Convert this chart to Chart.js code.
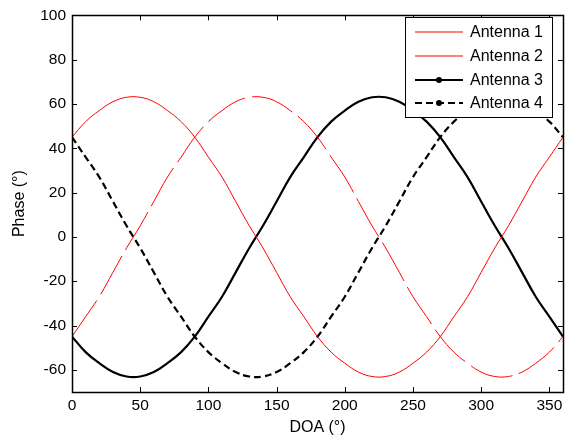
<!DOCTYPE html>
<html>
<head>
<meta charset="utf-8">
<script src="https://cdn.jsdelivr.net/npm/chart.js@4.4.0/dist/chart.umd.min.js"></script>
<style>
html, body { margin: 0; padding: 0; background: #fff; }
#wrap { width: 571px; height: 439px; }
</style>
</head>
<body>
<div id="wrap"><canvas id="c"></canvas></div>
<script>
// DOA in degrees, phase in degrees
const doa = [0, 10, 20, 30, 40, 50, 60, 70, 80, 90, 100, 110, 120, 130, 140, 150, 160, 170, 180,
  190, 200, 210, 220, 230, 240, 250, 260, 270, 280, 290, 300, 310, 320, 330, 340, 350, 360];
const antenna1 = [45, 52, 57, 61, 63, 63, 61, 57, 52, 45, 36, 27, 16, 5, -5, -16, -27, -36, -45,
  -52, -57, -61, -63, -63, -61, -57, -52, -45, -36, -27, -16, -5, 5, 16, 27, 36, 45];
const antenna2 = [-45, -36, -27, -16, -5, 5, 16, 27, 36, 45, 52, 57, 61, 63, 63, 61, 57, 52, 45,
  36, 27, 16, 5, -5, -16, -27, -36, -45, -52, -57, -61, -63, -63, -61, -57, -52, -45];
const antenna3 = [-45, -52, -57, -61, -63, -63, -61, -57, -52, -45, -36, -27, -16, -5, 5, 16, 27, 36, 45,
  52, 57, 61, 63, 63, 61, 57, 52, 45, 36, 27, 16, 5, -5, -16, -27, -36, -45];
const antenna4 = [45, 36, 27, 16, 5, -5, -16, -27, -36, -45, -52, -57, -61, -63, -63, -61, -57, -52, -45,
  -36, -27, -16, -5, 5, 16, 27, 36, 45, 52, 57, 61, 63, 63, 61, 57, 52, 45];
const seriesNames = ['Antenna 1', 'Antenna 2', 'Antenna 3', 'Antenna 4'];
const xTicks = [0, 50, 100, 150, 200, 250, 300, 350];
const yTicks = [-60, -40, -20, 0, 20, 40, 60, 80, 100];

const FONT = '"Liberation Sans", Arial, Helvetica, sans-serif';

function pts(ys) {
  return doa.map((x, i) => ({ x: x, y: ys[i] }));
}

const styles = [
  { color: '#ff0000', width: 1, dash: [], dot: false },
  { color: '#ff0000', width: 1, dash: [44, 7], dot: false },
  { color: '#000000', width: 2.2, dash: [], dot: true },
  { color: '#000000', width: 2.2, dash: [7, 4], dot: true }
];

// matlab style box with inward ticks on all sides
const boxPlugin = {
  id: 'box',
  afterDatasetsDraw(chart) {
    const { ctx, chartArea: a, scales: { x, y } } = chart;
    ctx.save();
    ctx.strokeStyle = '#000';
    ctx.lineWidth = 1;
    ctx.beginPath();
    xTicks.forEach(v => {
      const px = Math.round(x.getPixelForValue(v)) + 0.5;
      ctx.moveTo(px, a.bottom); ctx.lineTo(px, a.bottom - 5);
      ctx.moveTo(px, a.top); ctx.lineTo(px, a.top + 5);
    });
    yTicks.forEach(v => {
      const py = Math.round(y.getPixelForValue(v)) + 0.5;
      ctx.moveTo(a.left, py); ctx.lineTo(a.left + 5, py);
      ctx.moveTo(a.right, py); ctx.lineTo(a.right - 5, py);
    });
    ctx.stroke();
    ctx.lineWidth = 1.5;
    ctx.strokeRect(Math.round(a.left) + 0.5, Math.round(a.top) + 0.5,
      Math.round(a.right - a.left), Math.round(a.bottom - a.top));
    ctx.restore();
  }
};

// legend box inside the top right corner
const legendPlugin = {
  id: 'boxLegend',
  afterDraw(chart) {
    const ctx = chart.ctx;
    const left = 405, top = 17, w = 147, h = 100;
    ctx.save();
    ctx.fillStyle = '#fff';
    ctx.fillRect(left, top, w, h);
    ctx.strokeStyle = '#000';
    ctx.lineWidth = 1;
    ctx.strokeRect(left + 0.5, top + 0.5, w, h);
    const rows = [32, 56, 80, 103];
    seriesNames.forEach((name, i) => {
      const s = styles[i];
      const yy = rows[i];
      ctx.beginPath();
      ctx.strokeStyle = s.color;
      ctx.lineWidth = s.width;
      // legend shows antenna 2 as a plain line
      ctx.setLineDash(i === 3 ? [7, 4] : []);
      ctx.moveTo(415, yy); ctx.lineTo(463, yy);
      ctx.stroke();
      ctx.setLineDash([]);
      if (s.dot) {
        ctx.beginPath();
        ctx.fillStyle = s.color;
        ctx.arc(439, yy, 3, 0, Math.PI * 2);
        ctx.fill();
      }
      ctx.fillStyle = '#000';
      ctx.font = '16px ' + FONT;
      ctx.textBaseline = 'middle';
      ctx.fillText(name, 470, yy + 1);
    });
    ctx.restore();
  }
};

const allData = [antenna1, antenna2, antenna3, antenna4];

new Chart(document.getElementById('c'), {
  type: 'line',
  data: {
    datasets: allData.map((d, i) => ({
      label: seriesNames[i],
      data: pts(d),
      borderColor: styles[i].color,
      borderWidth: styles[i].width,
      borderDash: styles[i].dash,
      pointRadius: 0,
      fill: false,
      tension: 0.4
    }))
  },
  options: {
    responsive: true,
    maintainAspectRatio: false,
    animation: false,
    devicePixelRatio: 1,
    layout: { padding: { top: 13, right: 8, left: 0, bottom: 0 } },
    plugins: { legend: { display: false }, tooltip: { enabled: false } },
    scales: {
      x: {
        type: 'linear',
        min: 0,
        max: 360,
        afterBuildTicks: s => { s.ticks = xTicks.map(v => ({ value: v })); },
        afterFit: s => { s.height = 47; },
        grid: { display: false, drawTicks: false },
        border: { display: false },
        ticks: { color: '#000', padding: 4, maxRotation: 0, font: { family: FONT, size: 15.5 } },
        title: { display: true, text: 'DOA (°)', color: '#000', padding: { top: 0, bottom: 2 },
          font: { family: FONT, size: 16 } }
      },
      y: {
        min: -70,
        max: 100,
        afterBuildTicks: s => { s.ticks = yTicks.map(v => ({ value: v })); },
        afterFit: s => { s.width = 72; },
        grid: { display: false, drawTicks: false },
        border: { display: false },
        ticks: { color: '#000', padding: 6, font: { family: FONT, size: 15.5 } },
        title: { display: true, text: 'Phase (°)', color: '#000', padding: { top: 10, bottom: 0 },
          font: { family: FONT, size: 16 } }
      }
    }
  },
  plugins: [boxPlugin, legendPlugin]
});
</script>
</body>
</html>
